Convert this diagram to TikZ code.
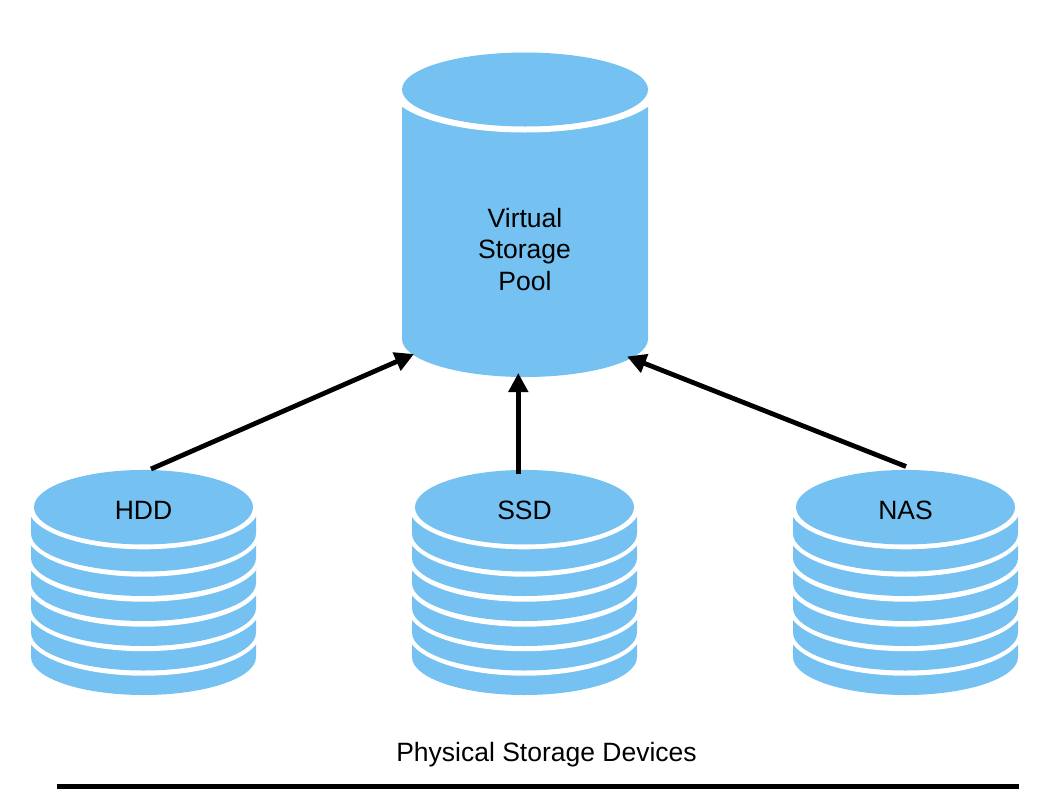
\documentclass[tikz,border=0pt]{standalone}
\usepackage{fontspec}
\setmainfont{Liberation Sans}
\usetikzlibrary{arrows.meta,shapes.geometric,calc}
\definecolor{diskblue}{HTML}{75C1F2}
\tikzset{
  disktop/.style={draw=none,fill=diskblue,shape=ellipse,inner sep=0pt,minimum width=219pt,minimum height=74.5pt},
  pooltop/.style={draw=none,fill=diskblue,shape=ellipse,inner sep=0pt,minimum width=246pt,minimum height=74pt},
  lab/.style={anchor=base,inner sep=0pt,font=\fontsize{26.5}{30}\selectfont,text=black},
  feed/.style={draw=black,line width=4.8pt,-{Triangle[length=19pt,width=19pt]},shorten >=0pt},
  base/.style={draw=black,line width=5pt}
}
\newcommand{\diskstack}[3]{%
  \foreach \yc in {657,632.5,608,583,558,533.5}{%
    \fill[diskblue] (#2-112.5,\yc-30) -- (#2-112.5,\yc) arc[start angle=180,end angle=360,x radius=112.5pt,y radius=38pt] -- (#2+112.5,\yc-30) -- cycle;
    \ifdim\yc pt=533.5pt
      \fill[white] (#2,507) ellipse [x radius=115.6pt,y radius=42.3pt];
    \else
      \pgfmathsetmacro{\yw}{\yc-24.6}
      \fill[white] (#2,\yw) ellipse [x radius=117pt,y radius=43.3pt];
    \fi
  }%
  \node[disktop] (#1) at (#2,507.2) {};
  \node[lab] (#1label) at (#2,519) {#3};
}
\begin{document}
\begin{tikzpicture}[x=1pt,y=-1pt]
\useasboundingbox (0,0) rectangle (1054,806);
% pool
\fill[diskblue] (402,95) -- (402,339) arc[start angle=180,end angle=360,x radius=123pt,y radius=38pt] -- (648,95) -- cycle;
\fill[white] (525,89.5) ellipse [x radius=134pt,y radius=43pt];
\node[pooltop] (pool) at (525,89.5) {};
\node[lab] (poolA) at (525,227) {Virtual};
\node[lab] (poolB) at (524.5,258.5) {Storage};
\node[lab] (poolC) at (525,290) {Pool};
% stacks
\diskstack{hdd}{143.5}{HDD}
\diskstack{ssd}{524.5}{SSD}
\diskstack{nas}{905.5}{NAS}
% connector ends
\coordinate (poolL) at (414,354);
\coordinate (poolM) at (518.3,373);
\coordinate (poolR) at (627,356.5);
\coordinate (hddOut) at (151,469);
\coordinate (ssdOut) at (518.3,473.5);
\coordinate (nasOut) at (906,466.5);
\draw[feed] (hddOut) -- (poolL);
\draw[feed,line width=5.6pt] (ssdOut) -- (poolM);
\draw[feed] (nasOut) -- (poolR);
% caption
\node[lab] (caption) at (546.5,761) {Physical Storage Devices};
\coordinate (baseL) at (57,786);
\coordinate (baseR) at (1019,786);
\draw[base] (baseL) -- (baseR);
\end{tikzpicture}
\end{document}
